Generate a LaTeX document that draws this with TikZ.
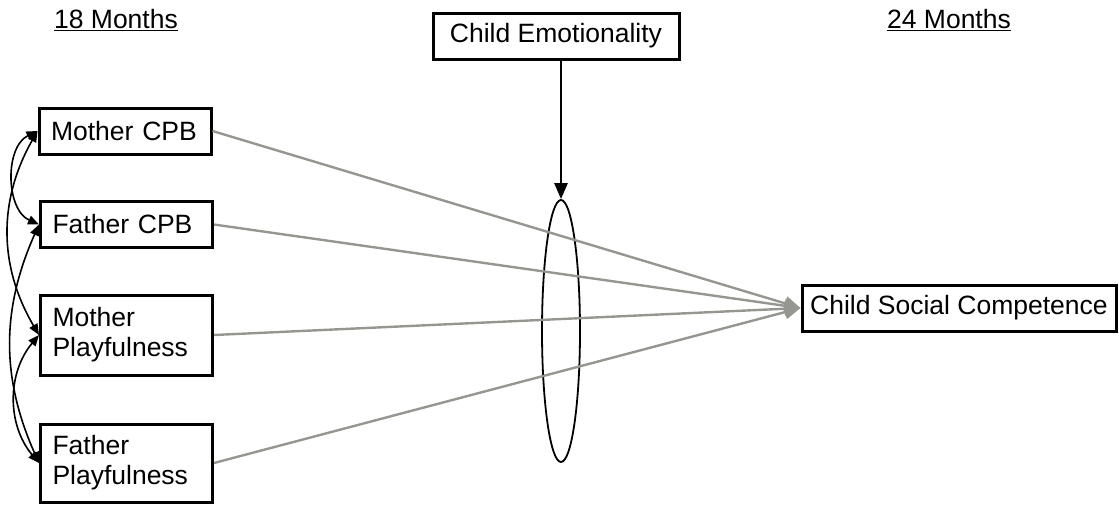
\documentclass[tikz,border=0pt]{standalone}
\usepackage{fontspec}
\setmainfont{Liberation Sans}
\usetikzlibrary{arrows.meta,shapes.geometric}
\begin{document}
\begin{tikzpicture}[x=1pt,y=1pt,
  every node/.style={font=\fontsize{26.5}{30}\selectfont},
  box/.style={draw, line width=3pt, inner xsep=12pt, inner ysep=4pt},
  leftbox/.style={box, minimum width=172pt, text width=148pt, align=left},
  grayarrow/.style={draw={rgb,255:red,150;green,150;blue,145}, line width=2.4pt,
    -{Triangle[length=16pt,width=14pt]}},
  corr/.style={draw, line width=1.6pt,
    {Triangle[length=11pt,width=9pt]}-{Triangle[length=11pt,width=9pt]}},
  modarrow/.style={draw, line width=2.6pt, -{Triangle[length=16pt,width=13pt]}}
]
\useasboundingbox (0,0) rectangle (1119,-504);

\node (h18) at (116,-20) {\underline{18 Months}};
\node (h24) at (949,-20) {\underline{24 Months}};

\node[leftbox, minimum height=46pt] (mcpb) at (125,-131) {Mother CPB};
\node[leftbox, minimum height=46pt] (fcpb) at (126.5,-224.5) {Father CPB};
\node[leftbox, minimum height=80pt] (mpl) at (126.5,-335) {Mother\\Playfulness};
\node[leftbox, minimum height=78pt] (fpl) at (126.5,-463) {Father\\Playfulness};

\node[box, minimum width=246pt, minimum height=46pt] (emo) at (556,-36) {Child Emotionality};
\node[box, inner xsep=4pt, minimum width=314pt, minimum height=46pt] (csc) at (959,-308) {Child Social Competence};

\node[ellipse, draw, line width=1.8pt, minimum width=38pt, minimum height=262pt, inner sep=0pt] (ell) at (561,-331) {};

\draw[grayarrow] (mcpb.east) -- (csc.west);
\draw[grayarrow] (fcpb.east) -- (csc.west);
\draw[grayarrow] (mpl.east) -- (csc.west);
\draw[grayarrow] (fpl.east) -- (csc.west);

\draw[modarrow] (emo.south -| ell.north) -- (ell.north);

\draw[corr] (mcpb.west) to[bend right=65] (fcpb.west);
\draw[corr] (mcpb.west) to[bend right=30] (mpl.west);
\draw[corr] (fcpb.west) to[bend right=24] (fpl.west);
\draw[corr] (mpl.west) to[bend right=40] (fpl.west);
\end{tikzpicture}
\end{document}
